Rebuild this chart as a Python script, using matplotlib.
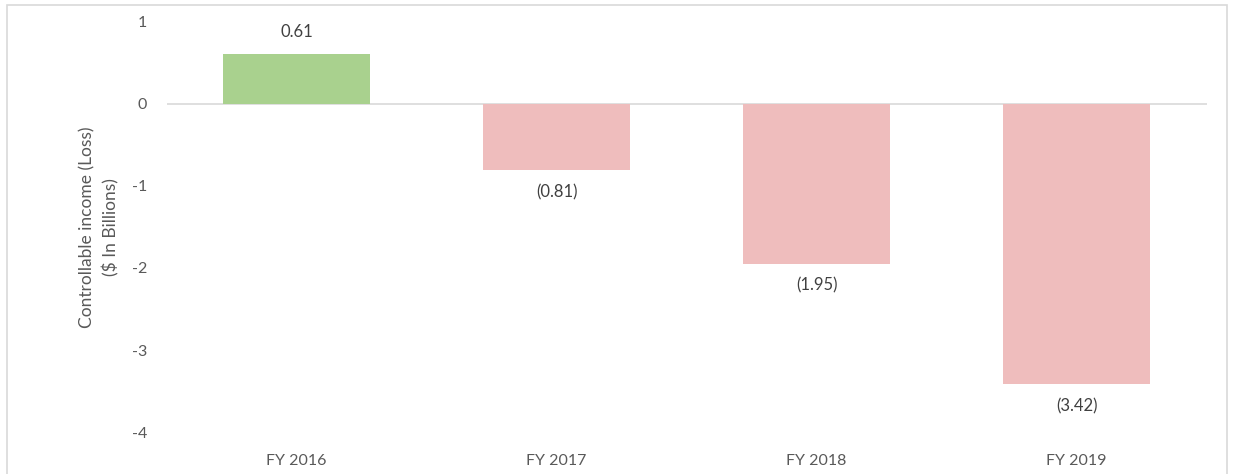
import matplotlib.pyplot as plt
from matplotlib.patches import Rectangle

years = ["FY 2016", "FY 2017", "FY 2018", "FY 2019"]
income = [0.61, -0.81, -1.95, -3.42]
labels = ["0.61", "(0.81)", "(1.95)", "(3.42)"]

green = "#A9D18E"
pink = "#EFBDBD"
text_col = "#595959"

plt.rcParams['font.family'] = ['Lato', 'DejaVu Sans']

fig = plt.figure(figsize=(12.35, 4.74), dpi=100)
ax = fig.add_axes([0.135, 0.0886, 0.842, 0.865])

colors = [green if v >= 0 else pink for v in income]
x = range(len(years))
bars = ax.bar(x, income, width=0.565, color=colors)

for b, v, lab in zip(bars, income, labels):
    cx = b.get_x() + b.get_width() / 2
    if v >= 0:
        ax.annotate(lab, (cx, v), xytext=(0, 10), textcoords="offset points",
                    ha="center", va="bottom", fontsize=12, color="#404040")
    else:
        ax.annotate(lab, (cx, v), xytext=(0, -10), textcoords="offset points",
                    ha="center", va="top", fontsize=12, color="#404040")

ax.set_xlim(-0.5, 3.5)
ax.set_ylim(-4, 1)
ax.set_yticks([1, 0, -1, -2, -3, -4])
ax.set_yticklabels(["1", "0", "-1", "-2", "-3", "-4"])
ax.set_xticks(list(x))
ax.set_xticklabels(years)
ax.axhline(0, color="#D9D9D9", lw=1.2, zorder=0)

for s in ax.spines.values():
    s.set_visible(False)
ax.tick_params(axis="both", length=0, labelsize=11.5, colors=text_col)
ax.tick_params(axis="y", pad=14)
ax.tick_params(axis="x", pad=16)

ax.set_ylabel("Controllable income (Loss)\n($ In Billions)", fontsize=12.5,
              color=text_col, linespacing=1.5)
ax.yaxis.set_label_coords(-0.045, 0.5)

fig.patches.append(Rectangle((7 / 1235, -0.1), 1220 / 1235, 1.1 - 5 / 474,
                             transform=fig.transFigure, fill=False,
                             edgecolor="#D9D9D9", lw=1.2))

fig.savefig("out.png", dpi=100)
